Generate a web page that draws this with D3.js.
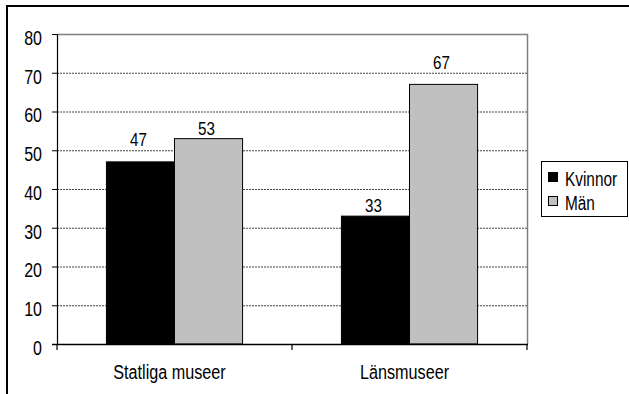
<!DOCTYPE html>
<html><head><meta charset="utf-8">
<script src="https://cdn.jsdelivr.net/npm/d3@7"></script>
<style>
body{margin:0;background:#fff;}
svg text{font-family:"Liberation Sans",Arial,sans-serif;fill:#000;}
</style></head>
<body><svg id="c" width="629" height="394"></svg>
<script>
const categories = ["Statliga museer", "Länsmuseer"];
const seriesNames = ["Kvinnor", "Män"];
const kvinnor = [47, 33];
const man = [53, 67];
const yTicks = [0, 10, 20, 30, 40, 50, 60, 70, 80];

const colors = ["#000000", "#c0c0c0"];
const svg = d3.select("#c");
// condense text horizontally (narrow typeface look) via transform about its own x
function condense(sel, f) {
  sel.each(function(){
    const s = d3.select(this);
    const x0 = +(s.attr("x") || 0), dx = parseFloat(s.attr("dx") || 0);
    s.attr("x", x0 / f).attr("dx", dx / f).attr("transform", `scale(${f},1)`);
  });
}
// outer frame
svg.append("rect").attr("x",7).attr("y",6).attr("width",660).attr("height",420)
  .attr("fill","none").attr("stroke","#000").attr("stroke-width",2);

const L=57, R=527, T=34, B=344;
const x = d3.scaleBand().domain(categories).range([L,R]);
const y = d3.scaleLinear().domain([0,80]).range([B,T]);
const xs = d3.scaleBand().domain(seriesNames).range([0, x.bandwidth()]).paddingInner(0).paddingOuter(0.726);

// gridlines
svg.append("g").selectAll("line").data(yTicks.filter(d=>d>0 && d<80)).join("line")
  .attr("x1",L).attr("x2",R).attr("y1",d=>y(d)+0.5).attr("y2",d=>y(d)+0.5)
  .attr("stroke","#444").attr("stroke-width",1).attr("stroke-dasharray","2,1");
// plot border top/right
svg.append("path").attr("d",`M${L},${T+0.5}H${R+0.5}V${B}`).attr("fill","none").attr("stroke","#808080").attr("stroke-width",1.5);

// bars
const series = [kvinnor, man];
series.forEach((vals,si)=>{
  svg.append("g").selectAll("rect").data(categories).join("rect")
    .attr("x",c=>x(c)+xs(seriesNames[si]))
    .attr("y",(c,i)=>y(vals[i]))
    .attr("width",xs.bandwidth())
    .attr("height",(c,i)=>B-y(vals[i]))
    .attr("fill",colors[si]).attr("stroke","#000").attr("stroke-width",1);
});
// labels (lift above bar top, px)
const lift = [[16,4],[4,15]];
series.forEach((vals,si)=>{
  const t = svg.append("g").selectAll("text").data(categories).join("text")
    .attr("x",c=>x(c)+xs(seriesNames[si])+xs.bandwidth()/2-2)
    .attr("y",(c,i)=>y(vals[i])-lift[si][i])
    .attr("text-anchor","middle").attr("font-size",19).text((c,i)=>vals[i]);
  condense(t, 0.8);
});

// y axis
const ya = svg.append("g").attr("transform",`translate(${L},0)`)
  .call(d3.axisLeft(y).tickValues(yTicks).tickSize(5).tickPadding(10).tickFormat(d3.format("d")));
ya.select(".domain").attr("stroke","#000").attr("stroke-width",1.2);
ya.selectAll(".tick line").attr("stroke","#000");
ya.selectAll(".tick text").attr("font-size",20).attr("font-family",null).attr("dy","0.52em");
condense(ya.selectAll(".tick text"), 0.8);

// x axis
const xa = svg.append("g").attr("transform",`translate(0,${B})`)
  .call(d3.axisBottom(x).tickSize(0).tickPadding(21));
xa.select(".domain").attr("d",`M${L-5},0.5H${R+1}`).attr("stroke","#000").attr("stroke-width",1.5);
xa.selectAll(".tick text").attr("font-size",20).attr("font-family",null).attr("dx",-5);
condense(xa.selectAll(".tick text"), 0.81);
svg.append("g").selectAll("line").data([0,1,2]).join("line")
  .attr("x1",i=>L+i*x.step()).attr("x2",i=>L+i*x.step()).attr("y1",B).attr("y2",B+6)
  .attr("stroke","#000").attr("stroke-width",1.2);

// legend
const lg = svg.append("g");
lg.append("rect").attr("x",541.5).attr("y",161.5).attr("width",86).attr("height",55)
  .attr("fill","#fff").attr("stroke","#000").attr("stroke-width",1);
seriesNames.forEach((n,i)=>{
  lg.append("rect").attr("x",548.5).attr("y",172.5+i*24).attr("width",9).attr("height",9)
    .attr("fill",colors[i]).attr("stroke","#000").attr("stroke-width",1);
  const t = lg.append("text").attr("x",565).attr("y",186+i*24).attr("font-size",20).text(n);
  condense(t, 0.77);
});
</script></body></html>
